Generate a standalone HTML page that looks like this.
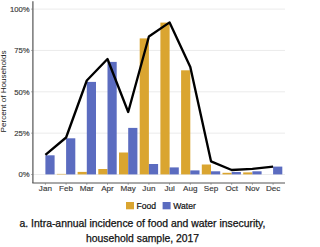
<!DOCTYPE html>
<html><head><meta charset="utf-8"><style>
html,body{margin:0;padding:0;background:#fff;}
body{width:302px;height:247px;overflow:hidden;position:relative;font-family:"Liberation Sans",sans-serif;}
svg{position:absolute;left:0;top:0;}
.cap{position:absolute;left:0;width:285px;text-align:center;font-size:10.4px;color:#111;line-height:15.1px;-webkit-text-stroke:0.25px #111;}
</style></head><body>
<svg width="302" height="247" viewBox="0 0 302 247">
<g stroke="#EBEBEB" stroke-width="1"><line x1="33" y1="174.5" x2="285" y2="174.5"/><line x1="33" y1="133.15" x2="285" y2="133.15"/><line x1="33" y1="91.8" x2="285" y2="91.8"/><line x1="33" y1="50.45" x2="285" y2="50.45"/><line x1="33" y1="9.1" x2="285" y2="9.1"/></g>
<rect x="45.40" y="155.30" width="9.2" height="19.10" fill="#5B6CC0"/><rect x="56.90" y="173.90" width="9.2" height="0.50" fill="#DAA530"/><rect x="66.10" y="138.30" width="9.2" height="36.10" fill="#5B6CC0"/><rect x="77.60" y="171.90" width="9.2" height="2.50" fill="#DAA530"/><rect x="86.80" y="81.90" width="9.2" height="92.50" fill="#5B6CC0"/><rect x="98.30" y="169.00" width="9.2" height="5.40" fill="#DAA530"/><rect x="107.50" y="61.90" width="9.2" height="112.50" fill="#5B6CC0"/><rect x="119.00" y="152.50" width="9.2" height="21.90" fill="#DAA530"/><rect x="128.20" y="127.90" width="9.2" height="46.50" fill="#5B6CC0"/><rect x="139.70" y="38.40" width="9.2" height="136.00" fill="#DAA530"/><rect x="148.90" y="164.00" width="9.2" height="10.40" fill="#5B6CC0"/><rect x="160.40" y="22.60" width="9.2" height="151.80" fill="#DAA530"/><rect x="169.60" y="167.40" width="9.2" height="7.00" fill="#5B6CC0"/><rect x="181.10" y="70.30" width="9.2" height="104.10" fill="#DAA530"/><rect x="190.30" y="170.40" width="9.2" height="4.00" fill="#5B6CC0"/><rect x="201.80" y="164.50" width="9.2" height="9.90" fill="#DAA530"/><rect x="211.00" y="171.30" width="9.2" height="3.10" fill="#5B6CC0"/><rect x="222.50" y="172.80" width="9.2" height="1.60" fill="#DAA530"/><rect x="231.70" y="172.00" width="9.2" height="2.40" fill="#5B6CC0"/><rect x="243.20" y="172.40" width="9.2" height="2.00" fill="#DAA530"/><rect x="252.40" y="171.30" width="9.2" height="3.10" fill="#5B6CC0"/><rect x="273.10" y="166.60" width="9.2" height="7.80" fill="#5B6CC0"/>
<polyline points="45.40,154.8 66.10,137.5 86.80,80.5 107.50,59 128.20,112 148.90,36.5 169.60,22.4 190.30,67 211.00,161.3 231.70,170 252.40,168.8 273.10,166.6" fill="none" stroke="#000" stroke-width="2.35" stroke-linejoin="round" stroke-linecap="butt"/>
<g stroke="#555" stroke-width="1.2"><line x1="32.9" y1="1.2" x2="32.9" y2="183"/><line x1="32.3" y1="183" x2="285" y2="183"/></g>
<g stroke="#777" stroke-width="0.7"><line x1="31.2" y1="174.5" x2="33" y2="174.5"/><line x1="31.2" y1="133.15" x2="33" y2="133.15"/><line x1="31.2" y1="91.8" x2="33" y2="91.8"/><line x1="31.2" y1="50.45" x2="33" y2="50.45"/><line x1="31.2" y1="9.1" x2="33" y2="9.1"/><line x1="45.40" y1="183" x2="45.40" y2="184.8" /><line x1="66.10" y1="183" x2="66.10" y2="184.8" /><line x1="86.80" y1="183" x2="86.80" y2="184.8" /><line x1="107.50" y1="183" x2="107.50" y2="184.8" /><line x1="128.20" y1="183" x2="128.20" y2="184.8" /><line x1="148.90" y1="183" x2="148.90" y2="184.8" /><line x1="169.60" y1="183" x2="169.60" y2="184.8" /><line x1="190.30" y1="183" x2="190.30" y2="184.8" /><line x1="211.00" y1="183" x2="211.00" y2="184.8" /><line x1="231.70" y1="183" x2="231.70" y2="184.8" /><line x1="252.40" y1="183" x2="252.40" y2="184.8" /><line x1="273.10" y1="183" x2="273.10" y2="184.8" /></g>
<g font-family="Liberation Sans" fill="#383838" stroke="#383838" stroke-width="0.15"><g font-size="7.7"><text x="29.6" y="177.20" text-anchor="end">0%</text><text x="29.6" y="135.85" text-anchor="end">25%</text><text x="29.6" y="94.50" text-anchor="end">50%</text><text x="29.6" y="53.15" text-anchor="end">75%</text><text x="29.6" y="11.80" text-anchor="end">100%</text></g><g font-size="8.1"><text x="45.40" y="191.4" text-anchor="middle">Jan</text><text x="66.10" y="191.4" text-anchor="middle">Feb</text><text x="86.80" y="191.4" text-anchor="middle">Mar</text><text x="107.50" y="191.4" text-anchor="middle">Apr</text><text x="128.20" y="191.4" text-anchor="middle">May</text><text x="148.90" y="191.4" text-anchor="middle">Jun</text><text x="169.60" y="191.4" text-anchor="middle">Jul</text><text x="190.30" y="191.4" text-anchor="middle">Aug</text><text x="211.00" y="191.4" text-anchor="middle">Sep</text><text x="231.70" y="191.4" text-anchor="middle">Oct</text><text x="252.40" y="191.4" text-anchor="middle">Nov</text><text x="273.10" y="191.4" text-anchor="middle">Dec</text></g></g>
<text transform="translate(6.3,91.5) rotate(-90)" text-anchor="middle" font-family="Liberation Sans" font-size="8.1" fill="#1a1a1a">Percent of Households</text>
<rect x="126" y="202" width="8" height="7.3" fill="#DAA530"/>
<rect x="162.6" y="202" width="8" height="7.3" fill="#5B6CC0"/>
<g font-family="Liberation Sans" font-size="8.6" fill="#111" stroke="#111" stroke-width="0.2"><text x="136.5" y="208.6">Food</text><text x="173.3" y="208.6">Water</text></g>
</svg>
<div class="cap" style="top:216.4px;">a. Intra-annual incidence of food and water insecurity,<br>household sample, 2017</div>
</body></html>
